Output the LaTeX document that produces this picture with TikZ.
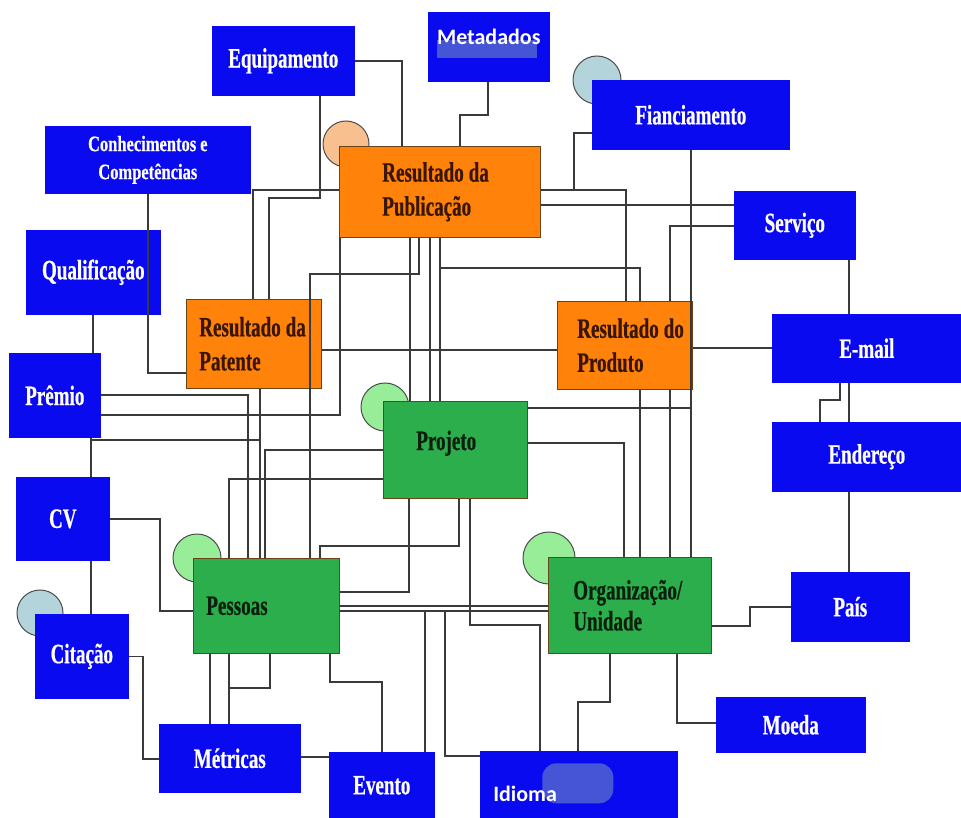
\documentclass[tikz,border=0pt]{standalone}
\usepackage{fontspec}
\newfontfamily\boxfont{Liberation Serif}[FakeStretch=0.68, FakeBold=0.6]
\newfontfamily\boxfontwide{Liberation Serif}[FakeStretch=0.75, FakeBold=0.5]
\newfontfamily\tagfont{Carlito}
\definecolor{boxblue}{HTML}{0A0AF0}
\definecolor{tagblue}{HTML}{4654D6}
\definecolor{boxorange}{HTML}{FF820A}
\definecolor{boxgreen}{HTML}{2CAE4C}
\definecolor{dotgreen}{HTML}{98EE98}
\definecolor{dotorange}{HTML}{F8C08E}
\definecolor{dotblue}{HTML}{B4D4DC}
\definecolor{edgebrown}{HTML}{6A4418}
\definecolor{txtbrown}{HTML}{3A1600}
\definecolor{txtgreen}{HTML}{0A200C}
\definecolor{wire}{HTML}{3A3A3A}
\tikzset{
  box/.style={rectangle, anchor=north west, inner sep=0pt, line width=0.6pt},
  bluebox/.style={box, draw=boxblue, fill=boxblue, text=white, align=center,
    font=\boxfont\bfseries\fontsize{28}{32}\selectfont},
  orangebox/.style={box, draw=edgebrown, fill=boxorange, text=txtbrown, align=left,
    font=\boxfont\bfseries\fontsize{28}{34}\selectfont},
  greenbox/.style={box, draw=edgebrown, fill=boxgreen, text=txtgreen, align=left,
    font=\boxfont\bfseries\fontsize{28}{31}\selectfont},
  bubble/.style={draw=black!70, line width=1pt},
  link/.style={draw=wire, line width=1.6pt}
}
\begin{document}
\begin{tikzpicture}[x=1pt, y=-1pt]

\fill[white] (0,0) rectangle (961,818);
\useasboundingbox (0,0) rectangle (961,818);

\draw[bubble, fill=dotorange] (346,144) circle[radius=23pt];
\draw[bubble, fill=dotblue] (597,80) circle[radius=24pt];
\draw[bubble, fill=dotgreen] (385,407) circle[radius=24pt];
\draw[bubble, fill=dotgreen] (197,558) circle[radius=24pt];
\draw[bubble, fill=dotgreen] (549,558) circle[radius=26pt];
\draw[bubble, fill=dotblue] (40,613) circle[radius=23pt];

\node[bluebox, minimum width=142, minimum height=69] (equip) at (212,26) {Equipamento};
\node[bluebox, minimum width=121, minimum height=69, text depth=20pt,
  font=\tagfont\bfseries\fontsize{22}{24}\selectfont,
  path picture={\fill[tagblue] ([shift={(9,28)}]path picture bounding box.north west)
    rectangle ([shift={(109,46)}]path picture bounding box.north west);}]
  (meta) at (428,12) {Metadados};
\node[bluebox, minimum width=205, minimum height=67,
  font=\boxfontwide\bfseries\fontsize{22}{28}\selectfont] (conh) at (45,126) {Conhecimentos\kern4pt e\\Competências};
\node[bluebox, minimum width=134, minimum height=84] (qual) at (26,230) {Qualificação};
\node[bluebox, minimum width=91, minimum height=84] (premio) at (9,353) {Prêmio};
\node[bluebox, minimum width=93, minimum height=83] (cv) at (16,477) {CV};
\node[bluebox, minimum width=93, minimum height=84] (citacao) at (35,614) {Citação};
\node[bluebox, minimum width=141, minimum height=68] (metricas) at (159,724) {Métricas};
\node[bluebox, minimum width=105, minimum height=66] (evento) at (329,752) {Evento};
\node[bluebox, minimum height=67, align=left, text width=171, inner xsep=13,
  text height=38pt, text depth=5pt, font=\tagfont\bfseries\fontsize{22}{24}\selectfont,
  path picture={\fill[tagblue, rounded corners=14pt] ([shift={(62,12)}]path picture bounding box.north west)
    rectangle ([shift={(133,52)}]path picture bounding box.north west);}]
  (idioma) at (480,751) {Idioma};
\node[bluebox, minimum width=149, minimum height=55] (moeda) at (716,697) {Moeda};
\node[bluebox, minimum width=118, minimum height=69] (pais) at (791,572) {País};
\node[bluebox, minimum width=189, minimum height=69] (endereco) at (772,422) {Endereço};
\node[bluebox, minimum width=189, minimum height=68] (email) at (772,314) {E-mail};
\node[bluebox, minimum width=121, minimum height=68] (servico) at (734,191) {Serviço};
\node[bluebox, minimum width=197, minimum height=69] (financ) at (592,80) {Fianciamento};

\node[orangebox, minimum height=91, text width=115, inner xsep=43] (pub) at (339,146) {\mbox{Resultado\kern5pt da}\\Publicação};
\node[orangebox, minimum height=89, text width=109, inner xsep=13] (patente) at (186,299) {\mbox{Resultado\kern5pt da}\\Patente};
\node[orangebox, minimum height=88, text width=95, inner xsep=20] (produto) at (557,301) {\mbox{Resultado\kern5pt do}\\Produto};

\node[greenbox, minimum height=97, text width=78, inner xsep=33, text depth=19pt] (projeto) at (383,401) {Projeto};
\node[greenbox, minimum height=95, text width=120, inner xsep=13] (pessoas) at (193,558) {Pessoas};
\node[greenbox, minimum height=96, text width=113, inner xsep=25] (org) at (548,557) {Organização/\\Unidade};

\draw[link] (equip.east) -| (402,0 |- pub.north);
\draw[link] (320,0 |- equip.south) |- (269,198) -- (269,0 |- patente.north);
\draw[link] (pub.west |- 0,190) -| (253,0 |- patente.north);
\draw[link] (148,0 |- conh.south) |- (patente.west |- 0,373);
\draw[link] (488,0 |- meta.south) |- (460,115) -- (460,0 |- pub.north);
\draw[link] (patente.east |- 0,350) -- (produto.west |- 0,350);

\draw[link] (410,0 |- pub.south) -- (410,0 |- projeto.north);
\draw[link] (430,0 |- pub.south) -- (430,0 |- projeto.north);
\draw[link] (440,0 |- pub.south) -- (440,0 |- projeto.north);
\draw[link] (440,0 |- pub.south) |- (640,268) -- (640,0 |- produto.north);
\draw[link] (419,0 |- pub.south) |- (310,274) -- (310,0 |- pessoas.north);

\draw[link] (93,0 |- qual.south) -- (93,0 |- premio.north);
\draw[link] (premio.east |- 0,415) -| (340,0 |- pub.south);
\draw[link] (premio.east |- 0,395) -| (248,0 |- pessoas.north);
\draw[link] (91,0 |- premio.south) |- (260,440) -- (260,0 |- pessoas.north);
\draw[link] (260,0 |- patente.south) -- (260,0 |- pessoas.north);
\draw[link] (91,0 |- premio.south) -- (91,0 |- cv.north);
\draw[link] (91,0 |- cv.south) -- (91,0 |- citacao.north);

\draw[link] (projeto.west |- 0,450) -| (265,0 |- pessoas.north);
\draw[link] (projeto.west |- 0,479) -| (229,0 |- pessoas.north);
\draw[link] (pessoas.east |- 0,592) -| (409,0 |- projeto.south);
\draw[link] (320,0 |- pessoas.north) |- (459,546) -- (459,0 |- projeto.south);
\draw[link] (470,0 |- projeto.south) |- (540,625) -- (540,0 |- idioma.north);

\draw[link] (pessoas.east |- 0,606) -- (org.west |- 0,606);
\draw[link] (pessoas.east |- 0,611) -- (org.west |- 0,611);
\draw[link] (pessoas.east |- 0,611) -| (425,0 |- evento.north);
\draw[link] (pessoas.east |- 0,611) -| (445,756) -- (idioma.west |- 0,756);
\draw[link] (210,0 |- pessoas.south) -- (210,0 |- metricas.north);
\draw[link] (229,0 |- pessoas.south) -- (229,0 |- metricas.north);
\draw[link] (270,0 |- pessoas.south) |- (229,688);
\draw[link] (330,0 |- pessoas.south) |- (evento.north |- 0,682) -- (evento.north);
\draw[link] (cv.east) -| (160,611) -- (pessoas.west |- 0,611);
\draw[link] (citacao.east) -| (143,759) -- (metricas.west |- 0,759);
\draw[link] (metricas.east |- 0,757) -- (evento.west |- 0,757);

\draw[link] (pub.east |- 0,190) -| (626,0 |- produto.north);
\draw[link] (financ.west |- 0,133) -| (574,190) -- (pub.east |- 0,190);
\draw[link] (pub.east |- 0,205) -- (servico.west |- 0,205);
\draw[link] (servico.west |- 0,226) -| (670,0 |- produto.north);
\draw[link] (691,0 |- financ.south) -- (691,0 |- org.north);
\draw[link] (projeto.east |- 0,408) -| (691,0 |- org.north);
\draw[link] (projeto.east |- 0,443) -| (624,0 |- org.north);
\draw[link] (640,0 |- produto.south) -- (640,0 |- org.north);
\draw[link] (670,0 |- produto.south) -- (670,0 |- org.north);

\draw[link] (produto.east |- 0,348) -- (email.west |- 0,348);
\draw[link] (849,0 |- servico.south) -- (849,0 |- email.north);
\draw[link] (849,0 |- email.south) -- (849,0 |- endereco.north);
\draw[link] (840,0 |- email.south) |- (820,400) -- (820,0 |- endereco.north);
\draw[link] (849,0 |- endereco.south) -- (849,0 |- pais.north);
\draw[link] (org.east |- 0,626) -| (750,607) -- (pais.west |- 0,607);
\draw[link] (677,0 |- org.south) |- (moeda.west |- 0,723);
\draw[link] (610,0 |- org.south) |- (578,702) -- (578,0 |- idioma.north);

\end{tikzpicture}
\end{document}
